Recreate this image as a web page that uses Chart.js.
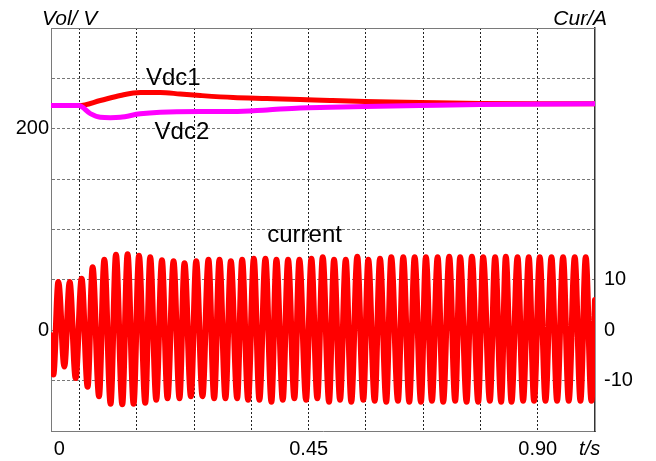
<!DOCTYPE html>
<html>
<head>
<meta charset="utf-8">
<script src="https://cdn.jsdelivr.net/npm/chart.js@4.4.1/dist/chart.umd.min.js"></script>
<style>
  body { margin: 0; background: #fff; }
</style>
</head>
<body>
<canvas id="myChart" width="656" height="461"></canvas>
<script>
// time axis (s): one grid step = 0.1125 s
const timeTicks = [-0.04, 0, 0.1125, 0.225, 0.3375, 0.45, 0.5625, 0.675, 0.7875, 0.9, 1.002];
const timeTickText = ['0', '', '', '', '', '0.45', '', '', '', '0.90', 't/s'];
const voltTickText = [0, 200];
const ampTickText = [-10, 0, 10];

// DC link voltages
const vdc1Time = [-0.0561, -0.002, 0.0406, 0.0799, 0.1191, 0.1584, 0.1976, 0.2369, 0.3016, 0.3683, 0.4331, 0.492, 0.5606, 0.6686, 0.7863, 0.8982, 1.0125];
const vdc1 = [223, 223, 228, 233, 236, 236, 234.5, 233, 231, 230, 229, 228, 227, 226, 225, 224.7, 224.7];
const vdc2Time = [-0.0561, -0.002, 0.021, 0.0406, 0.0602, 0.0799, 0.1191, 0.1584, 0.2369, 0.3016, 0.3683, 0.4331, 0.492, 0.5606, 0.6686, 0.7863, 1.0125];
const vdc2 = [223, 223, 215, 211.4, 211, 211.4, 214.8, 216.4, 217, 217, 218.7, 220.7, 221.3, 222, 223, 224, 224.7];

// phase current, peaks and troughs
const curTime = [
  -0.0561, -0.0516, -0.0418, -0.0300, -0.0196, -0.0078, 0.0039, 0.0157, 0.0255, 0.0381,
  0.0485, 0.0608, 0.0714, 0.0838, 0.0942, 0.1060, 0.1166, 0.1289, 0.1387, 0.1505,
  0.1617, 0.1727, 0.1845, 0.1962, 0.2060, 0.2186, 0.2290, 0.2414, 0.2531, 0.2643,
  0.2747, 0.2865, 0.2971, 0.3095, 0.3193, 0.3310, 0.3422, 0.3532, 0.3650, 0.3768,
  0.3866, 0.3991, 0.4095, 0.4219, 0.4317, 0.4449, 0.4553, 0.4670, 0.4776, 0.4900,
  0.4998, 0.5116, 0.5228, 0.5337, 0.5455, 0.5573, 0.5671, 0.5797, 0.5901, 0.6024,
  0.6122, 0.6254, 0.6358, 0.6476, 0.6582, 0.6705, 0.6803, 0.6921, 0.7033, 0.7143,
  0.7261, 0.7378, 0.7476, 0.7602, 0.7706, 0.7830, 0.7928, 0.8059, 0.8163, 0.8281,
  0.8373, 0.8485, 0.8603, 0.8713, 0.8824, 0.8928, 0.9040, 0.9152, 0.9270, 0.9380,
  0.9498, 0.9609, 0.9727, 0.9839, 0.9943, 1.0055, 1.0125
];
const current = [
  -1, -8.8, 9.6, -7.2, 9.6, -9.5, 10.2, -11.2, 12.5, -13.1,
  14, -14.6, 15, -14.7, 15.1, -14.6, 14.8, -14.4, 14.5, -13.8,
  13.9, -13.5, 13.7, -13.5, 13.3, -13.1, 13.7, -13.1, 14, -13.5,
  14, -13.5, 13.7, -13.5, 14, -13.8, 14.2, -13.8, 14.2, -14.2,
  14, -13.8, 14, -13.5, 14, -13.8, 14.2, -13.5, 14.5, -14.2,
  14, -13.8, 14, -14.2, 14.6, -13.8, 14, -14, 14.2, -14.2,
  14.5, -14, 14.5, -14.2, 14.5, -14.2, 14.5, -14, 14.5, -14.2,
  14.6, -14, 14.5, -14.2, 14.6, -14.2, 14.5, -14, 14.5, -14.2,
  14.6, -14.2, 14.5, -14, 14.5, -14, 14.5, -14, 14.5, -14,
  14.5, -14, 14.5, -14, 14.5, -14, 6
];

// trace names, placed in data units
const traceNames = [
  { text: 'Vdc1', t: 0.184, v: 250, axis: 'y' },
  { text: 'Vdc2', t: 0.201, v: 196, axis: 'y' },
  { text: 'current', t: 0.442, v: 18.8, axis: 'yR' }
];

const FONT = 'Arial, "Liberation Sans", sans-serif';
const pairs = (xs, ys) => xs.map((x, i) => ({ x: x, y: ys[i] }));

const textLayer = {
  id: 'textLayer',
  afterDraw(chart) {
    const { ctx, chartArea: a, scales } = chart;
    ctx.save();
    // top edge of the frame
    ctx.strokeStyle = '#7a7a7a';
    ctx.lineWidth = 1;
    ctx.beginPath();
    ctx.moveTo(a.left, a.top + 0.5);
    ctx.lineTo(a.right, a.top + 0.5);
    ctx.stroke();

    ctx.fillStyle = '#000';
    ctx.font = 'italic 21px ' + FONT;
    ctx.textBaseline = 'alphabetic';
    ctx.textAlign = 'left';
    ctx.fillText('Vol/ V', a.left - 9, a.top - 3);
    ctx.textAlign = 'right';
    ctx.fillText('Cur/A', a.right + 12, a.top - 3);

    ctx.font = '24px ' + FONT;
    ctx.textAlign = 'center';
    ctx.textBaseline = 'middle';
    traceNames.forEach(n => {
      ctx.fillText(n.text, scales.x.getPixelForValue(n.t), scales[n.axis].getPixelForValue(n.v));
    });
    ctx.restore();
  }
};

const ctx = document.getElementById('myChart').getContext('2d');
const chart = new Chart(ctx, {
  type: 'line',
  data: {
    datasets: [
      {
        label: 'Vdc2',
        data: pairs(vdc2Time, vdc2),
        yAxisID: 'y',
        borderColor: '#ff00ff',
        borderWidth: 5,
        cubicInterpolationMode: 'monotone',
        order: 0
      },
      {
        label: 'Vdc1',
        data: pairs(vdc1Time, vdc1),
        yAxisID: 'y',
        borderColor: '#ff0000',
        borderWidth: 5,
        cubicInterpolationMode: 'monotone',
        order: 1
      },
      {
        label: 'current',
        data: pairs(curTime, current),
        yAxisID: 'yR',
        borderColor: '#ff0000',
        borderWidth: 6,
        cubicInterpolationMode: 'monotone',
        order: 2
      }
    ]
  },
  options: {
    responsive: false,
    animation: false,
    devicePixelRatio: 1,
    layout: { padding: { top: 28, left: 0, right: 0, bottom: 0 } },
    elements: {
      point: { radius: 0 },
      line: { borderJoinStyle: 'round', borderCapStyle: 'round' }
    },
    plugins: {
      legend: { display: false },
      tooltip: { enabled: false }
    },
    scales: {
      x: {
        type: 'linear',
        min: -0.05625,
        max: 1.0125,
        afterBuildTicks: (scale) => {
          scale.ticks = timeTicks.map(v => ({ value: v }));
        },
        afterFit: (scale) => { scale.height = 30; },
        ticks: {
          autoSkip: false,
          maxRotation: 0,
          padding: 6,
          color: '#000',
          font: (c) => ({
            family: FONT,
            size: 20,
            style: c.index === timeTicks.length - 1 ? 'italic' : 'normal'
          }),
          callback: (value, index) => timeTickText[index]
        },
        grid: {
          drawTicks: false,
          color: (c) => (c.index === 0 || c.index === timeTicks.length - 1) ? 'rgba(0,0,0,0)' : '#222',
          lineWidth: 1
        },
        border: { color: '#7a7a7a', width: 1, dash: [2, 2] }
      },
      y: {
        position: 'left',
        min: -100,
        max: 300,
        afterFit: (scale) => { scale.width = 51; },
        ticks: {
          stepSize: 50,
          padding: 2,
          color: '#000',
          font: { family: FONT, size: 20 },
          callback: (value) => voltTickText.includes(value) ? String(value) : ''
        },
        grid: {
          drawTicks: false,
          color: '#777',
          lineWidth: (c) => (c.tick && (c.tick.value === -100 || c.tick.value === 300)) ? 0 : 1
        },
        border: { color: '#7a7a7a', width: 1, dash: [3, 2] }
      },
      yR: {
        position: 'right',
        min: -20,
        max: 60,
        afterFit: (scale) => { scale.width = 61; },
        ticks: {
          stepSize: 10,
          padding: 9,
          color: '#000',
          font: { family: FONT, size: 20 },
          callback: (value) => ampTickText.includes(value) ? String(value) : ''
        },
        grid: { display: false, drawOnChartArea: false, drawTicks: false },
        border: { color: '#333', width: 1.5 }
      }
    }
  },
  plugins: [textLayer]
});
</script>
</body>
</html>
